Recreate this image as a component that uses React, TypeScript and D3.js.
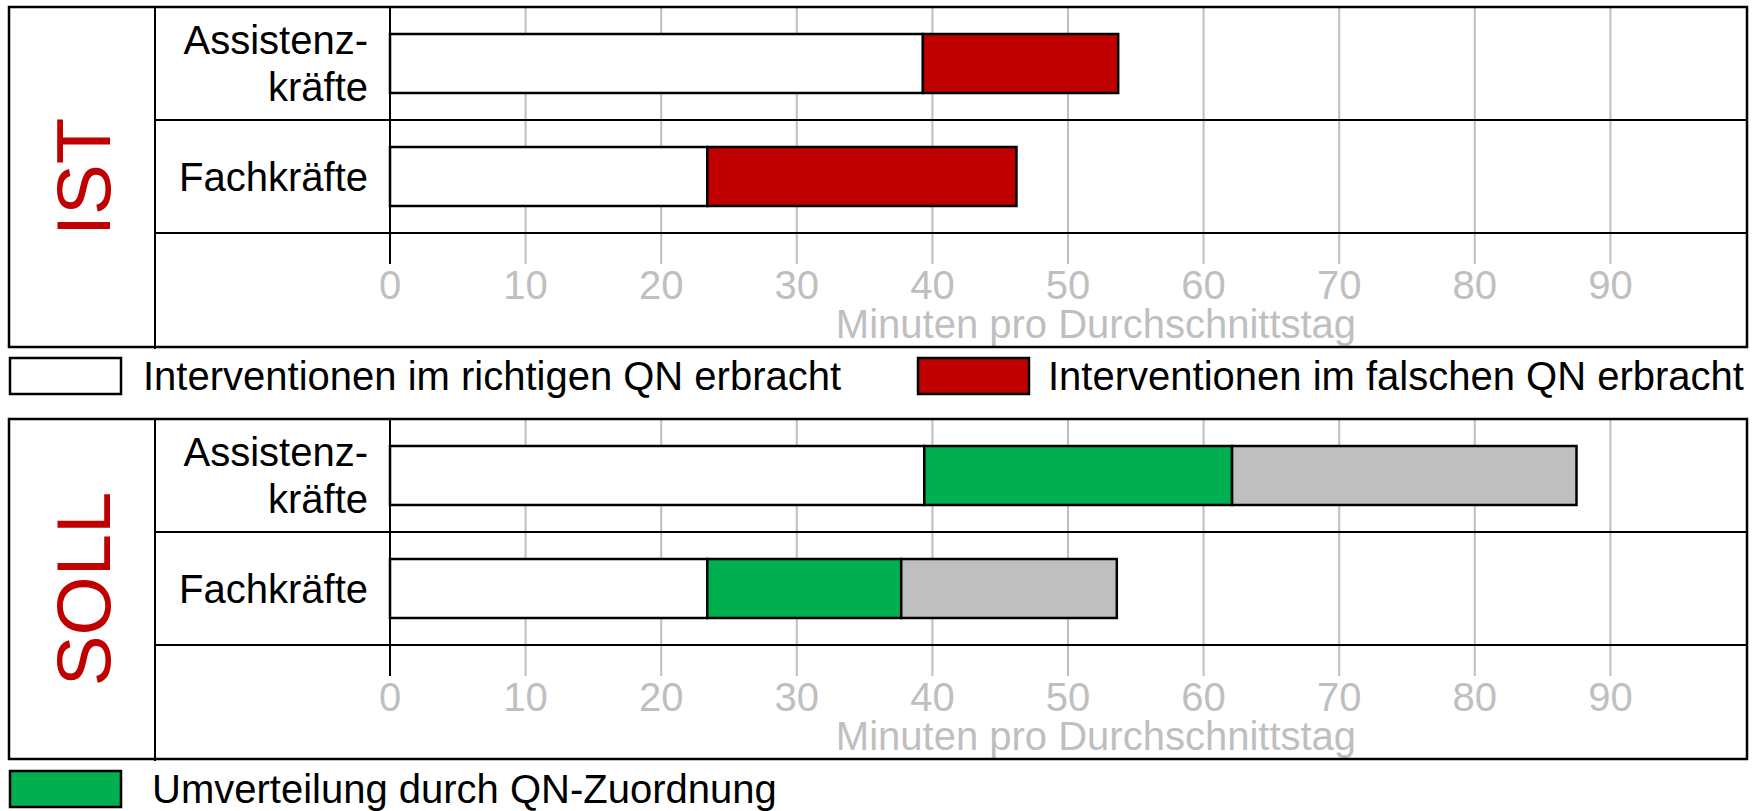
import React from 'react';
import * as d3 from 'd3';

// categories and values (minutes per average day)
const categories = ['Assistenzkräfte', 'Fachkräfte'];
const categoryLines = [['Assistenz-', 'kräfte'], ['Fachkräfte']];

const istRichtig = [39.3, 23.4];
const istFalsch = [14.4, 22.8];

const sollRichtig = [39.4, 23.4];
const sollUmverteilung = [22.7, 14.3];
const sollRest = [25.4, 15.9];

const tickValues = [0, 10, 20, 30, 40, 50, 60, 70, 80, 90];
const axisTitle = 'Minuten pro Durchschnittstag';

const RED = '#C00000';
const GREEN = '#00B050';
const GREY = '#BFBFBF';
const FONT = '"Liberation Sans", Arial, sans-serif';

const W = 1761;
const H = 811;
const boxLeft = 9;
const boxRight = 1747;
const divider = 155;
const panelH = 340;

const x = d3.scaleLinear().domain([0, 100]).range([390, 1746]);
const y = d3.scaleBand().domain(categories).range([0, 226]).paddingInner(0.478).paddingOuter(0.239);

type Series = { values: number[]; fill: string };

const Panel = ({ top, title, series }: { top: number; title: string; series: Series[] }) => {
  const step = y.step();
  const stacked = categories.map((c, i) => {
    let acc = 0;
    return series.map((s) => {
      const x0 = acc;
      acc += s.values[i];
      return { x0, x1: acc, fill: s.fill };
    });
  });
  return (
    <g transform={`translate(0,${top})`}>
      {/* grid */}
      {tickValues.filter((t) => t > 0).map((t) => (
        <line key={t} x1={x(t)} x2={x(t)} y1={0} y2={257} stroke={GREY} strokeWidth={2} />
      ))}
      {/* row separators */}
      {categories.map((c, i) => (
        <line key={c} x1={divider} x2={boxRight} y1={step * (i + 1)} y2={step * (i + 1)} stroke="#000" strokeWidth={2} />
      ))}
      <line x1={x(0)} x2={x(0)} y1={0} y2={257} stroke="#000" strokeWidth={2} />
      {/* bars */}
      {stacked.map((segs, i) =>
        segs.map((s, j) => (
          <rect
            key={`${i}-${j}`}
            x={x(s.x0)}
            y={y(categories[i])}
            width={x(s.x1) - x(s.x0)}
            height={y.bandwidth()}
            fill={s.fill}
            stroke="#000"
            strokeWidth={2.5}
          />
        ))
      )}
      {/* category labels */}
      {categoryLines.map((lines, i) => {
        const mid = (y(categories[i]) as number) + y.bandwidth() / 2;
        const lh = 47;
        return (
          <text key={i} textAnchor="end" fontSize={40} fontFamily={FONT} fill="#000">
            {lines.map((l, k) => (
              <tspan key={k} x={368} y={mid + 14 + (k - (lines.length - 1) / 2) * lh}>{l}</tspan>
            ))}
          </text>
        );
      })}
      {/* tick labels */}
      {tickValues.map((t) => (
        <text key={t} x={x(t)} y={292} textAnchor="middle" fontSize={40} fontFamily={FONT} fill={GREY}>{t}</text>
      ))}
      <text x={1096} y={331} textAnchor="middle" fontSize={40} fontFamily={FONT} fill={GREY}>{axisTitle}</text>
      {/* frame */}
      <rect x={boxLeft} y={0} width={boxRight - boxLeft} height={panelH} fill="none" stroke="#000" strokeWidth={2.5} />
      <line x1={divider} x2={divider} y1={0} y2={panelH + 2} stroke="#000" strokeWidth={2} />
      <text
        transform={`translate(${(boxLeft + divider) / 2 + 28},${panelH / 2}) rotate(-90)`}
        textAnchor="middle"
        fontSize={76}
        fontFamily={FONT}
        fill={RED}
      >
        {title}
      </text>
    </g>
  );
};

const LegendItem = ({ bx, by, tx, fill, label }: { bx: number; by: number; tx: number; fill: string; label: string }) => (
  <g>
    <rect x={bx} y={by} width={111} height={36} fill={fill} stroke="#000" strokeWidth={2.5} />
    <text x={tx} y={by + 32} fontSize={40} fontFamily={FONT} fill="#000">{label}</text>
  </g>
);

export default function App() {
  return (
    <svg width={W} height={H} style={{ position: 'absolute', left: 0, top: 0, background: '#fff' }}>
      <rect width={W} height={H} fill="#fff" />
      <Panel
        top={7}
        title="IST"
        series={[
          { values: istRichtig, fill: '#fff' },
          { values: istFalsch, fill: RED },
        ]}
      />
      <LegendItem bx={10} by={358} tx={143} fill="#fff" label="Interventionen im richtigen QN erbracht" />
      <LegendItem bx={918} by={358} tx={1048} fill={RED} label="Interventionen im falschen QN erbracht" />
      <Panel
        top={419}
        title="SOLL"
        series={[
          { values: sollRichtig, fill: '#fff' },
          { values: sollUmverteilung, fill: GREEN },
          { values: sollRest, fill: GREY },
        ]}
      />
      <LegendItem bx={10} by={771} tx={152} fill={GREEN} label="Umverteilung durch QN-Zuordnung" />
    </svg>
  );
}
